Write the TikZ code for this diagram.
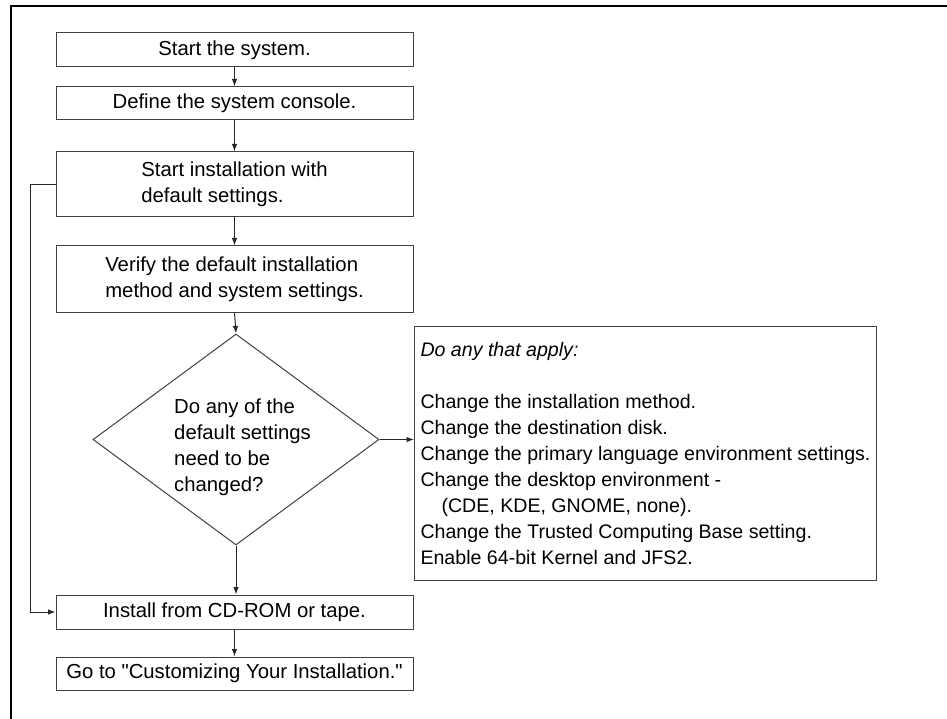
\documentclass[tikz,border=0pt]{standalone}
\usepackage{fontspec}
\setmainfont{Liberation Sans}
\usetikzlibrary{shapes.geometric,arrows.meta}

\begin{document}
\begin{tikzpicture}[x=1pt,y=-1pt,
  every node/.style={font=\fontsize{20.3}{26}\selectfont, text=black},
  stepbox/.style={draw=black!75, line width=1pt, minimum width=357pt,
    inner sep=0pt, align=left},
  decision/.style={diamond, draw=black!75, line width=1pt, aspect=1.355,
    minimum width=286pt, minimum height=211pt, inner sep=0pt},
  optbox/.style={draw=black!75, line width=1pt, anchor=north west,
    minimum width=462pt, minimum height=254pt, inner xsep=6pt,
    align=left, font=\fontsize{19.6}{26}\selectfont},
  arr/.style={draw=black!85, line width=1pt,
    -{Latex[length=7.5pt,width=5.5pt]}},
  frame/.style={draw=black, line width=2pt}]

  \useasboundingbox (0,0) rectangle (947,719);

  % outer frame (top and left edges)
  \draw[frame] (11,719) -- (11,6) -- (947,6);

  % main flow
  \node[stepbox, minimum height=34pt] (s1) at (234.5,50)
    {Start the system.};
  \node[stepbox, minimum height=33pt] (s2) at (234.5,103.5)
    {Define the system console.};
  \node[stepbox, minimum height=65pt] (s3) at (234.5,184.5)
    {Start installation with\\default settings.};
  \node[stepbox, minimum height=66pt] (s4) at (234.5,279)
    {Verify the default installation\\method and system settings.};
  \node[decision] (q) at (236,439.5) {};
  \node[align=left, inner sep=0pt] (qtext) at (242.5,447)
    {Do any of the\\default settings\\need to be\\changed?};
  \node[stepbox, minimum height=34pt] (s5) at (234.5,612)
    {Install from CD-ROM or tape.};
  \node[stepbox, minimum height=33pt] (s6) at (234.5,673.5)
    {Go to \textquotedbl Customizing Your Installation.\textquotedbl};

  % list of optional changes
  \node[optbox] (opts) at (414,326)
    {\textit{Do any that apply:}\\[26pt]
     Change the installation method.\\
     Change the destination disk.\\
     Change the primary language environment settings.\\
     Change the desktop environment -\\
     \hspace*{21pt}(CDE, KDE, GNOME, none).\\
     Change the Trusted Computing Base setting.\\
     Enable 64-bit Kernel and JFS2.};

  % connectors
  \draw[arr] (s1) -- (s2);
  \draw[arr] (s2) -- (s3);
  \draw[arr] (s3) -- (s4);
  \draw[arr] (s4.south) -- (q.north);
  \draw[arr] (q.south) -- (q.south |- s5.north);
  \draw[arr] (s5) -- (s6);
  \draw[arr] (q.east) -- (q.east -| opts.west);
  \coordinate (loop) at (30,0);
  \draw[arr] (s3.west) -- (s3.west -| loop) |- (s5.west);
\end{tikzpicture}
\end{document}
